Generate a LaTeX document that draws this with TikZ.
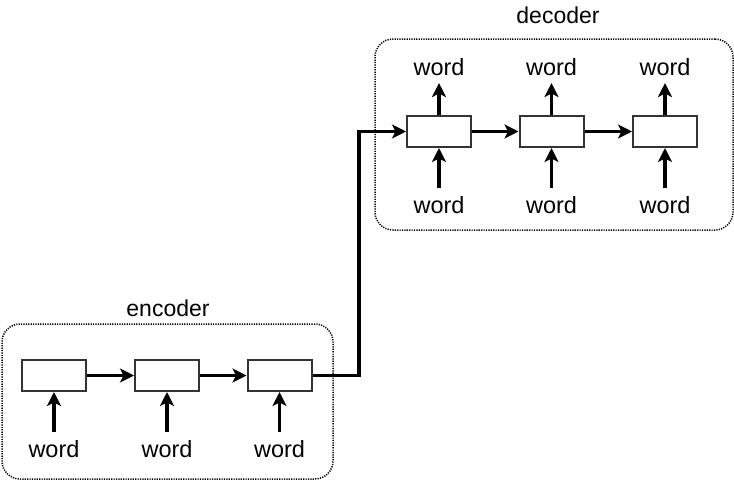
\documentclass[tikz,border=0pt]{standalone}
\usepackage{fontspec}
\setmainfont{Liberation Sans}
\usetikzlibrary{arrows.meta}
\tikzset{
  cell/.style={draw=black!80, line width=2pt, fill=white, minimum width=64pt, minimum height=31pt, inner sep=0pt},
  wordlbl/.style={font=\fontsize{23.5}{28}\selectfont, inner sep=7.6pt},
  title/.style={font=\fontsize{23}{28}\selectfont, inner sep=0pt, anchor=base},
  container/.style={draw=black, line width=1.5pt, dash pattern=on 1.2pt off 1.2pt, rounded corners=18pt, inner sep=0pt},
  flow/.style={line width=3.2pt, -{Stealth[length=14pt,width=14pt,inset=3.5pt]}}
}
\begin{document}
\begin{tikzpicture}[x=1pt,y=-1pt]
\useasboundingbox (0,0) rectangle (734,482);
% containers
\node[container, minimum width=331pt, minimum height=155pt] (enc) at (167.5,401.5) {};
\node[container, minimum width=358pt, minimum height=191pt] (dec) at (554,134.5) {};
\node[title] (enclbl) at (168,316) {encoder};
\node[title] (declbl) at (558,23) {decoder};
% encoder cells
\node[cell] (e1) at (54,375.5) {};
\node[cell] (e2) at (167,375.5) {};
\node[cell] (e3) at (279.5,375.5) {};
% encoder inputs
\node[wordlbl, anchor=base] (ew1) at (54,457) {word};
\node[wordlbl, anchor=base] (ew2) at (167,457) {word};
\node[wordlbl, anchor=base] (ew3) at (279.5,457) {word};
% decoder cells
\node[cell] (d1) at (439,131.5) {};
\node[cell] (d2) at (551.5,131.5) {};
\node[cell] (d3) at (665,131.5) {};
% decoder inputs and outputs
\node[wordlbl, anchor=base] (di1) at (439,213) {word};
\node[wordlbl, anchor=base] (di2) at (551.5,213) {word};
\node[wordlbl, anchor=base] (di3) at (665,213) {word};
\node[wordlbl, anchor=base] (do1) at (439,75) {word};
\node[wordlbl, anchor=base] (do2) at (551.5,75) {word};
\node[wordlbl, anchor=base] (do3) at (665,75) {word};
% arrows
\draw[flow] (ew1.north) -- (e1.south);
\draw[flow] (ew2.north) -- (e2.south);
\draw[flow] (ew3.north) -- (e3.south);
\draw[flow] (e1.east) -- (e2.west);
\draw[flow] (e2.east) -- (e3.west);
\draw[flow] (di1.north) -- (d1.south);
\draw[flow] (di2.north) -- (d2.south);
\draw[flow] (di3.north) -- (d3.south);
\draw[flow] (d1.north) -- (do1.south);
\draw[flow] (d2.north) -- (do2.south);
\draw[flow] (d3.north) -- (do3.south);
\draw[flow] (d1.east) -- (d2.west);
\draw[flow] (d2.east) -- (d3.west);
% bridge
\coordinate (jx) at (359,250);
\draw[flow, line join=miter] (e3.east) -- (e3.east -| jx) -- (d1.west -| jx) -- (d1.west);
\end{tikzpicture}
\end{document}
